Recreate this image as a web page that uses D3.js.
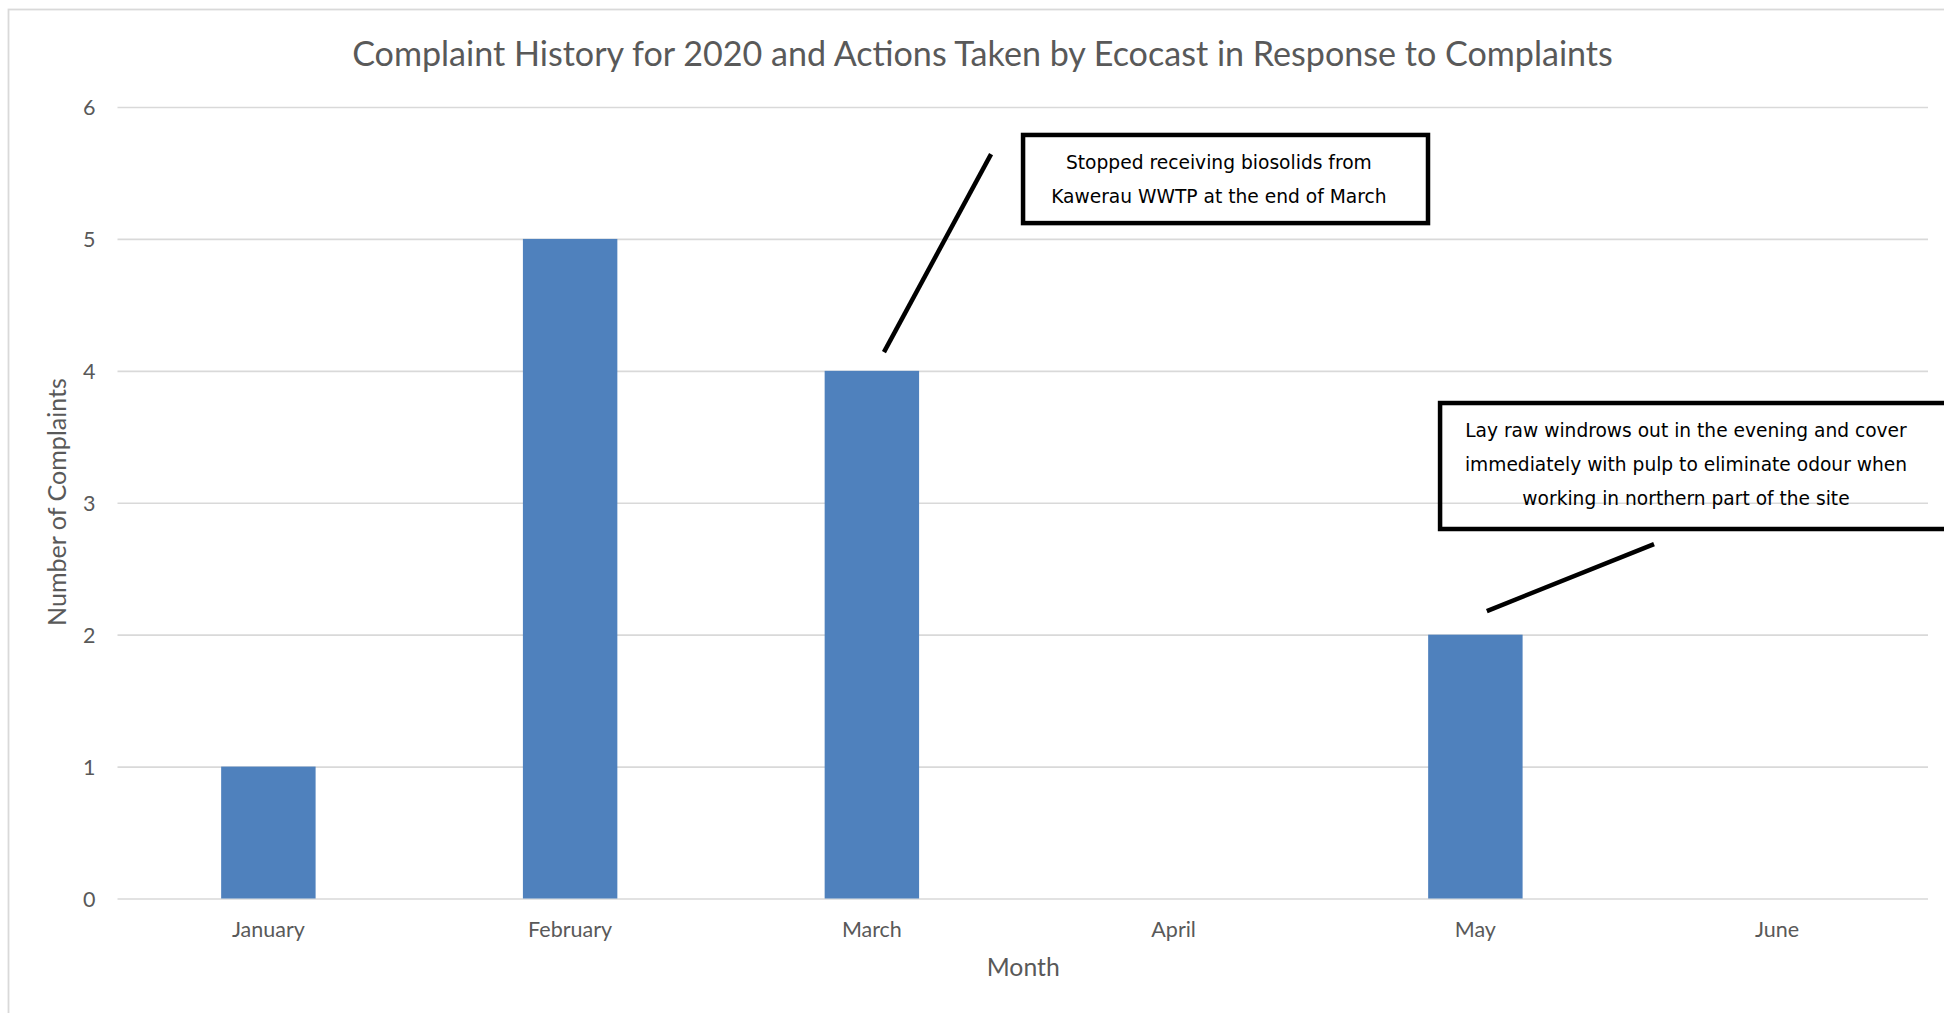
<!DOCTYPE html>
<html>
<head>
<meta charset="utf-8">
<script src="https://cdn.jsdelivr.net/npm/d3@7"></script>
<style>
  html, body { margin: 0; padding: 0; background: #ffffff; }
  svg { display: block; }
</style>
</head>
<body>
<svg id="chart" width="1944" height="1013"></svg>
<script>
// ---- data ----
const months = ["January", "February", "March", "April", "May", "June"];
const complaints = [1, 5, 4, 0, 2, 0];
const yTicks = [0, 1, 2, 3, 4, 5, 6];
const chartTitle = "Complaint History for 2020 and Actions Taken by Ecocast in Response to Complaints";
const xTitle = "Month";
const yTitle = "Number of Complaints";
// annotation texts (lines)
const noteLines1 = ["Stopped receiving biosolids from", "Kawerau WWTP at the end of March"];
const noteLines2 = ["Lay raw windrows out in the evening and cover",
                    "immediately with pulp to eliminate odour when",
                    "working in northern part of the site"];

// ---- layout ----
const W = 1944, H = 1013;
const plot = { left: 117.5, right: 1928, top: 107, bottom: 898.5 };
const svg = d3.select("#chart");
const textColor = "#595959";
const gridColor = "#d9d9d9";
const barColor = "#4f81bd";
const sansFont = "Lato, 'Open Sans', sans-serif";
const noteFont = "'DejaVu Sans', Verdana, sans-serif";

// chart area border
svg.append("rect")
  .attr("x", 8.5).attr("y", 9.5)
  .attr("width", W + 20).attr("height", H + 20)
  .attr("fill", "#ffffff")
  .attr("stroke", gridColor).attr("stroke-width", 1.8);

const x = d3.scaleBand().domain(months).range([plot.left, plot.right]).paddingInner(0.687).paddingOuter(0.3435);
const xi = d3.scaleLinear().domain([0, months.length]).range([plot.left, plot.right]);
const y = d3.scaleLinear().domain([0, 6]).range([plot.bottom, plot.top]);

function fitWidth(sel, target) {
  const w = sel.node().getComputedTextLength();
  const fs = parseFloat(sel.attr("font-size"));
  sel.attr("font-size", fs * target / w);
  return fs * target / w;
}

// gridlines + y axis
const yAxis = d3.axisLeft(y).tickValues(yTicks).tickSize(-(plot.right - plot.left)).tickPadding(22).tickFormat(d3.format("d"));
const gy = svg.append("g").attr("transform", `translate(${plot.left},0)`).call(yAxis);
gy.select(".domain").remove();
gy.selectAll(".tick line").attr("stroke", gridColor).attr("stroke-width", 1.6);
gy.selectAll(".tick text")
  .attr("fill", textColor).attr("font-family", sansFont).attr("font-size", 21.5)
  .attr("dy", "0.36em");

// bars
svg.append("g").selectAll("rect")
  .data(months.map((m, i) => ({ m, v: complaints[i] })).filter(d => d.v > 0))
  .join("rect")
  .attr("x", d => x(d.m))
  .attr("width", x.bandwidth())
  .attr("y", d => y(d.v))
  .attr("height", d => y(0) - y(d.v))
  .attr("fill", barColor);

// x axis labels
const xAxis = d3.axisBottom(x).tickSize(0).tickPadding(0);
const gx = svg.append("g").attr("transform", `translate(0,${plot.bottom})`).call(xAxis);
gx.select(".domain").remove();
gx.selectAll(".tick text")
  .attr("fill", textColor).attr("font-family", sansFont).attr("font-size", 21.5)
  .attr("y", 38.5).attr("dy", 0);

// title
const t = svg.append("text")
  .attr("x", 982.5).attr("y", 66)
  .attr("text-anchor", "middle")
  .attr("fill", textColor).attr("font-family", sansFont).attr("font-size", 32)
  .text(chartTitle);
fitWidth(t, 1261);

// axis titles
const xt = svg.append("text")
  .attr("x", (plot.left + plot.right) / 2 + 0.5).attr("y", 976)
  .attr("text-anchor", "middle")
  .attr("fill", textColor).attr("font-family", sansFont).attr("font-size", 23.5)
  .text(xTitle);
fitWidth(xt, 73);
const yt = svg.append("text")
  .attr("transform", "translate(66,502) rotate(-90)")
  .attr("text-anchor", "middle")
  .attr("fill", textColor).attr("font-family", sansFont).attr("font-size", 23.5)
  .text(yTitle);
fitWidth(yt, 248);

// annotations (positions in data units: category index / value)
const notes = [
  { lines: noteLines1, box: [3.001, 4.343, 5.788, 5.120], textX: 3.650, firstWidth: 306,
    leader: [[2.895, 5.643], [2.540, 4.142]] },
  { lines: noteLines2, box: [4.383, 6.075, 3.756, 2.801], textX: 5.198, firstWidth: 442,
    leader: [[5.092, 2.687], [4.538, 2.179]] }
];
notes.forEach(n => {
  const g = svg.append("g");
  const bx0 = xi(n.box[0]), bx1 = xi(n.box[1]), by0 = y(n.box[2]), by1 = y(n.box[3]);
  g.append("rect")
    .attr("x", bx0).attr("y", by0)
    .attr("width", bx1 - bx0).attr("height", by1 - by0)
    .attr("fill", "none").attr("stroke", "#000000").attr("stroke-width", 4.5);
  g.append("line")
    .attr("x1", xi(n.leader[0][0])).attr("y1", y(n.leader[0][1]))
    .attr("x2", xi(n.leader[1][0])).attr("y2", y(n.leader[1][1]))
    .attr("stroke", "#000000").attr("stroke-width", 4.5);
  const texts = n.lines.map((s, i) => g.append("text")
    .attr("x", xi(n.textX)).attr("y", by0 + 34 + i * 34)
    .attr("text-anchor", "middle")
    .attr("fill", "#000000").attr("font-family", noteFont).attr("font-size", 16)
    .text(s));
  const fs = fitWidth(texts[0], n.firstWidth);
  texts.forEach(tx => tx.attr("font-size", fs));
});
</script>
</body>
</html>
